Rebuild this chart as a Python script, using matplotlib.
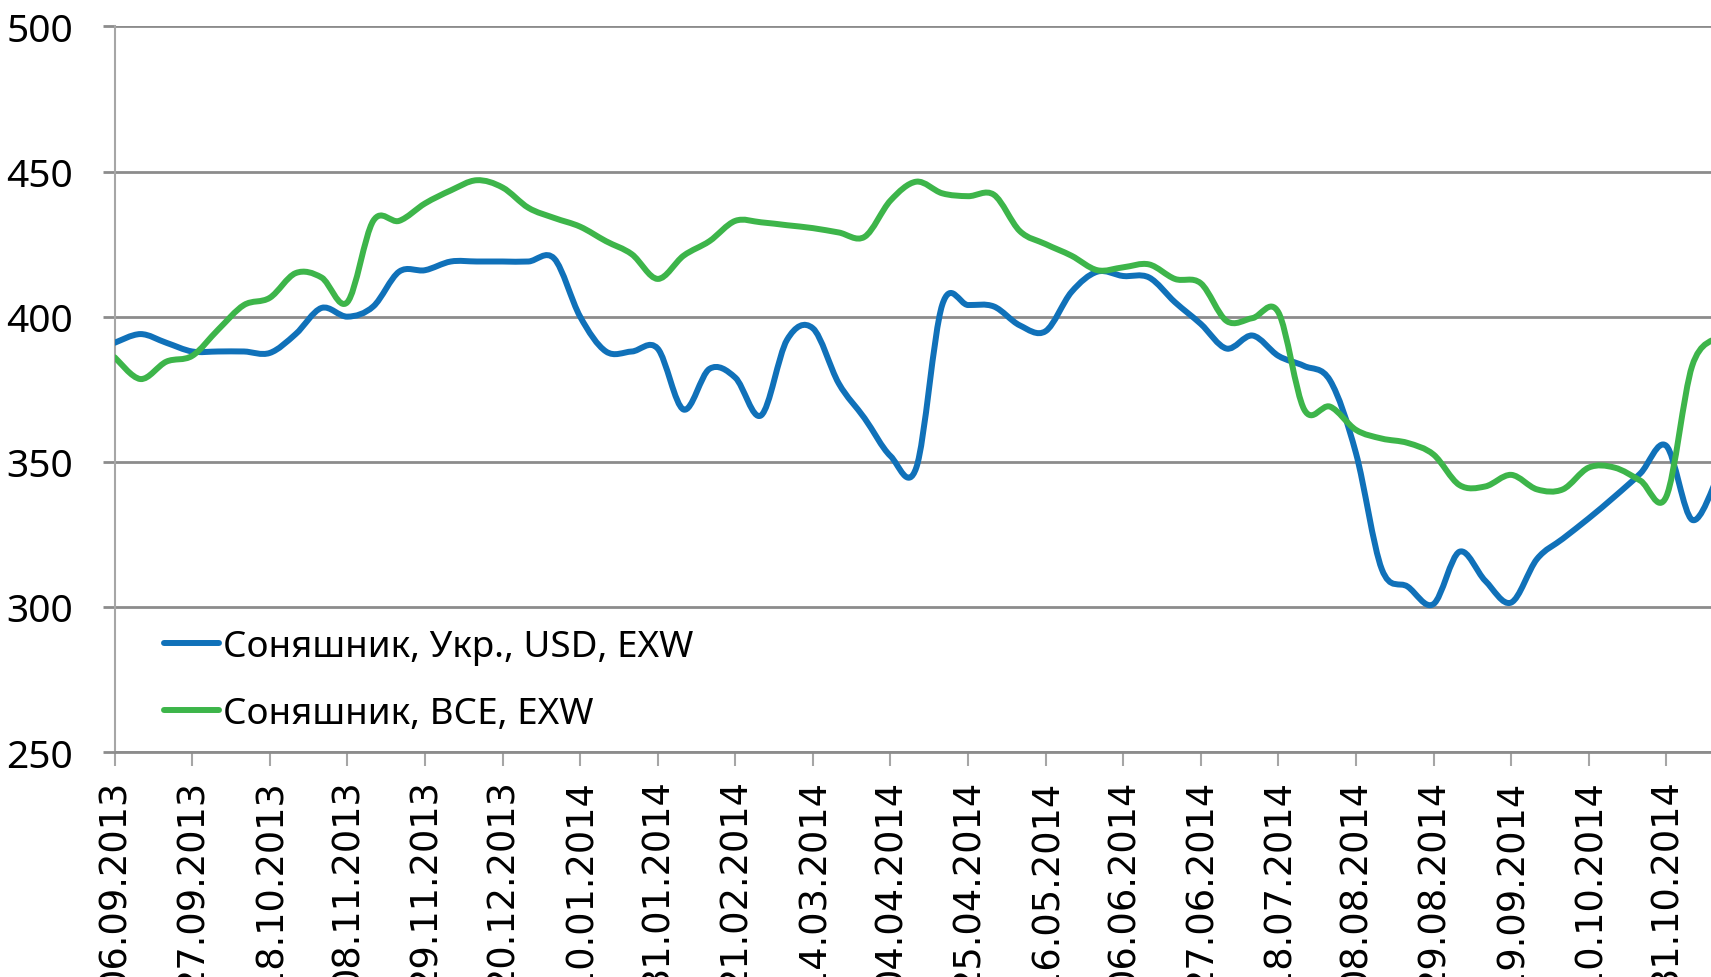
import matplotlib
matplotlib.use("Agg")
import matplotlib.pyplot as plt
import matplotlib.dates as mdates
from matplotlib.path import Path
from matplotlib.patches import PathPatch
from matplotlib.lines import Line2D
import pandas as pd

# weekly prices, USD/t, from 06.09.2013
ukr = [391, 394, 391, 388, 388, 388, 387.5, 394, 403, 400, 403.5, 415.5, 416, 419, 419,
       419, 419, 420, 400, 388, 388, 389, 368, 382, 379, 366, 392, 396, 377, 365, 352,
       348, 404, 404, 403.5, 397, 395, 408.5, 415.5, 414, 413.5, 405, 397.5, 389, 393.5,
       386.5, 383, 378, 353, 313, 307, 301, 319, 309, 301.5, 316.5, 323.5, 330.5, 338,
       346, 355.5, 330, 345]
bce = [386, 378.5, 384.5, 386.5, 395.5, 404, 406.5, 415, 413.5, 405, 433, 433, 439,
       443.5, 447, 444.5, 437.5, 434, 431, 426, 421.5, 413, 421, 426, 433, 432.5, 431.5,
       430.5, 429, 427.5, 440, 446.5, 442.5, 441.5, 442, 429.5, 425, 421, 416, 417, 418,
       413, 411.5, 398.5, 399.5, 401.5, 368, 369, 361, 358, 356.5, 352.5, 342, 341.5,
       345.5, 340.5, 340.5, 348, 348, 343.5, 338, 383, 393]
labels = ["Соняшник, Укр., USD, EXW", "Соняшник, ВСЕ, EXW"]
colors = ["#1071b9", "#3db54a"]

dates = pd.date_range("2013-09-06", periods=len(ukr), freq="7D")


def smooth_path(xs, ys):
    # bezier through every point, like a smoothed excel line
    verts = [(xs[0], ys[0])]
    codes = [Path.MOVETO]
    n = len(xs)
    for i in range(n - 1):
        a = max(i - 1, 0)
        b = min(i + 2, n - 1)
        c1 = (xs[i] + (xs[i + 1] - xs[a]) / 6, ys[i] + (ys[i + 1] - ys[a]) / 6)
        c2 = (xs[i + 1] - (xs[b] - xs[i]) / 6, ys[i + 1] - (ys[b] - ys[i]) / 6)
        verts += [c1, c2, (xs[i + 1], ys[i + 1])]
        codes += [Path.CURVE4] * 3
    return Path(verts, codes)


fig = plt.figure(figsize=(17.11, 9.78), dpi=100)
ax = fig.add_axes([0.067, 0.230, 0.933, 0.742])

xs = mdates.date2num(dates)
for vals, col in zip([ukr, bce], colors):
    ax.add_patch(PathPatch(smooth_path(xs, vals), fill=False, edgecolor=col, lw=4.3,
                           capstyle="round", joinstyle="round", zorder=3))

ax.set_ylim(250, 500)
ax.set_xlim(xs[0], xs[0] + 61.73 * 7)
ax.set_yticks(range(250, 501, 50))
ax.set_xticks(dates[::3])
ax.xaxis.set_major_formatter(mdates.DateFormatter("%d.%m.%Y"))

grid_c = "#8c8c8c"
ax.set_axisbelow(True)
ax.grid(axis="y", color=grid_c, lw=2)
for s in ["top", "right"]:
    ax.spines[s].set_visible(False)
ax.spines["left"].set_color("#a6a6a6")
ax.spines["left"].set_linewidth(1.5)
ax.spines["bottom"].set_color(grid_c)
ax.spines["bottom"].set_linewidth(2)

ax.tick_params(axis="y", direction="out", length=9, width=2, color=grid_c, pad=21,
               labelsize=28)
ax.tick_params(axis="x", direction="out", length=10, width=1.5, color="#a6a6a6", pad=9,
               labelsize=26.5, labelrotation=90)
for t in ax.get_yticklabels():
    t.set_family("Noto Sans")
for t in ax.get_xticklabels():
    t.set_family("DejaVu Sans")
    t.set_va("top")

handles = [Line2D([], [], color=c, lw=4.3, solid_capstyle="round") for c in colors]
ax.legend(handles, labels, loc="center left", bbox_to_anchor=(0.085, 0.3033),
          bbox_transform=fig.transFigure, frameon=False, borderpad=0,
          handlelength=1.5, handletextpad=0.12, labelspacing=0.85,
          prop={"family": "Noto Sans", "size": 26.5})

fig.savefig("out.png", dpi=100)
